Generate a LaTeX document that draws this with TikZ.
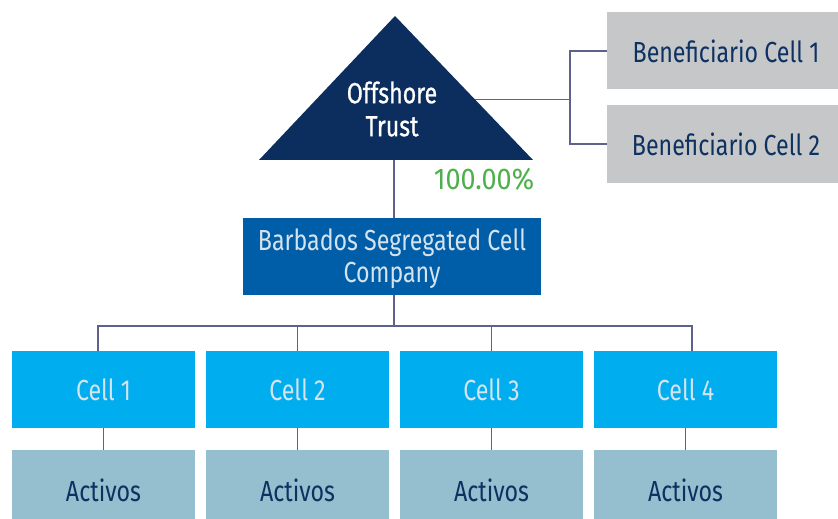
\documentclass[tikz,border=0pt]{standalone}
\usepackage{fontspec}
\setmainfont{Fira Sans}[FakeStretch=0.8]
\usetikzlibrary{positioning,calc}
\definecolor{trustnavy}{HTML}{0B2E5E}
\definecolor{sccblue}{HTML}{005DA8}
\definecolor{cellcyan}{HTML}{00AEEF}
\definecolor{assetblue}{HTML}{95BECE}
\definecolor{benefgray}{HTML}{C6C7C9}
\definecolor{textnavy}{HTML}{0D3160}
\definecolor{celltext}{HTML}{D5E3EE}
\definecolor{linkslate}{HTML}{5E6189}
\definecolor{sharegreen}{HTML}{4DB04A}

\begin{document}
\begin{tikzpicture}[x=0.5pt,y=-0.5pt,
    txt/.style={font={\fontsize{14.5}{16}\selectfont},align=center,inner sep=0pt},
    benef/.style={txt,fill=benefgray,text=textnavy,
        minimum width=119pt,minimum height=38.5pt},
    scc/.style={txt,fill=sccblue,text=celltext,
        minimum width=149pt,minimum height=38.5pt},
    cell/.style={txt,fill=cellcyan,text=celltext,
        minimum width=91.5pt,minimum height=38.5pt},
    asset/.style={txt,fill=assetblue,text=textnavy,
        minimum width=91.5pt,minimum height=40pt},
    link/.style={draw=linkslate,line width=0.8pt}]
\useasboundingbox (0,0) rectangle (838,518);

% trust
\coordinate (apex) at (395,16);
\coordinate (baseL) at (259,160);
\coordinate (baseR) at (533,160);
\fill[trustnavy] (apex)--(baseL)--(baseR)--cycle;
\node[txt,text=white,font={\fontsize{14.5}{16}\selectfont\addfontfeature{FakeBold=0.8}}]
    (trust) at (392,109) {Offshore\\[0.5pt]Trust};
\coordinate (trustR) at ($(apex)!0.58!(baseR)$);
\coordinate (trustB) at (394,160);

% beneficiaries
\node[benef] (ben1) at (726,51) {Beneficiario Cell 1};
\node[benef] (ben2) at (726,144) {Beneficiario Cell 2};
\coordinate (fork) at (570,0);
\draw[link] (trustR)--(trustR-|fork);
\draw[link] (ben1.west)--(ben1.west-|fork)--(ben2.west-|fork)--(ben2.west);

% company
\node[scc] (scc) at (392,256.5) {\rule{0pt}{13pt}Barbados Segregated Cell\\Company};
\node[txt,text=sharegreen,font={\fontsize{15}{18}\selectfont\addfontfeature{FakeStretch=0.9}}]
    (share) at (484,179) {100.00\%};
\draw[link] (trustB)--(trustB|-scc.north);

% cells and assets
\foreach \i/\x in {1/103.5,2/297.5,3/491.5,4/685.5}{
    \node[cell] (cell\i) at (\x,389.5) {Cell \i};
    \node[asset] (act\i) at (\x,490) {Activos};
    \draw[link] (cell\i.south)--(act\i.north);
}
\coordinate (bus) at (0,326);
\draw[link] ([xshift=1pt]scc.south)--([xshift=1pt]scc.south|-bus);
\draw[link] ([xshift=-2.75pt]cell1.north)--([xshift=-2.75pt]cell1.north|-bus)
    --([xshift=3.25pt]cell4.north|-bus)--([xshift=3.25pt]cell4.north);
\draw[link] (cell2.north)--(cell2.north|-bus);
\draw[link] (cell3.north)--(cell3.north|-bus);

\end{tikzpicture}
\end{document}
